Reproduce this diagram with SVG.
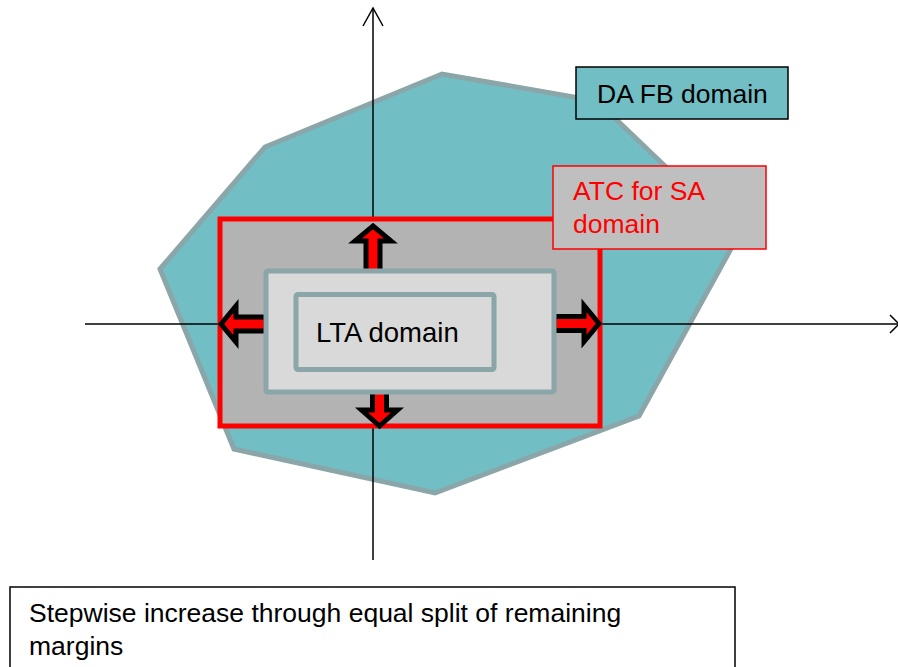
<svg xmlns="http://www.w3.org/2000/svg" width="898" height="667" viewBox="0 0 898 667">
<style>
text{font-family:"Liberation Sans",Arial,sans-serif;font-size:26.5px;fill:#000}
.axis{stroke:#000;stroke-width:1.5;fill:none}
.blk{fill:#ff0000;stroke:#000;stroke-width:5;stroke-linejoin:miter;stroke-miterlimit:10}
.lta{fill:#d9d9d9;stroke:#8aa6a9;stroke-width:5}
.lbl{stroke-width:1.5}
</style>
<rect width="898" height="667" fill="#fff"/>
<g id="da-fb-region">
<polygon points="160,269 265,147 442,74 597,101 738,236 639,416 435,493 234,449" fill="#72bec5" stroke="#8aa6a9" stroke-width="5" stroke-linejoin="miter"/>
</g>
<g id="axes">
<line class="axis" x1="373" y1="8" x2="373" y2="560"/>
<polyline class="axis" points="363,26 373,8 383,26"/>
<line class="axis" x1="85" y1="324" x2="899" y2="324"/>
<polyline class="axis" points="890,315 899,324 890,333"/>
</g>
<g id="atc-region">
<rect x="220" y="219" width="380" height="207" fill="#b3b3b3" stroke="#ff0000" stroke-width="5"/>
</g>
<g id="connectors">
<path class="blk" d="M373,226 L391,241 L380,241 L380,272 L366,272 L366,241 L355,241 Z"/>
<path class="blk" d="M221,324 L236,306 L236,317 L266,317 L266,331 L236,331 L236,342 Z"/>
<path class="blk" d="M599,323.5 L584,305.5 L584,316.5 L554,316.5 L554,330.5 L584,330.5 L584,341.5 Z"/>
<path class="blk" d="M379.5,426 L361.5,410 L372.5,410 L372.5,390 L386.5,390 L386.5,410 L397.5,410 Z"/>
</g>
<g id="lta-outer">
<rect class="lta" x="266" y="271" width="288" height="121" rx="2"/>
</g>
<g id="lta-domain">
<rect class="lta" x="296" y="294.5" width="198" height="75" rx="2"/>
<text x="316" y="342" style="font-size:27.5px">LTA domain</text>
</g>
<g id="label-da-fb">
<rect class="lbl" x="576" y="67" width="212" height="52" fill="#72bec5" stroke="#000"/>
<text x="597" y="103">DA FB domain</text>
</g>
<g id="label-atc">
<rect class="lbl" x="553" y="166" width="213" height="83" fill="#bfbfbf" stroke="#ff0000"/>
<text x="573" y="200" style="fill:#ff0000">ATC for SA</text>
<text x="573" y="233" style="fill:#ff0000">domain</text>
</g>
<g id="caption">
<rect class="lbl" x="10" y="587" width="725" height="90" fill="#fff" stroke="#000"/>
<text x="29" y="622">Stepwise increase through equal split of remaining</text>
<text x="29" y="655">margins</text>
</g>
</svg>
